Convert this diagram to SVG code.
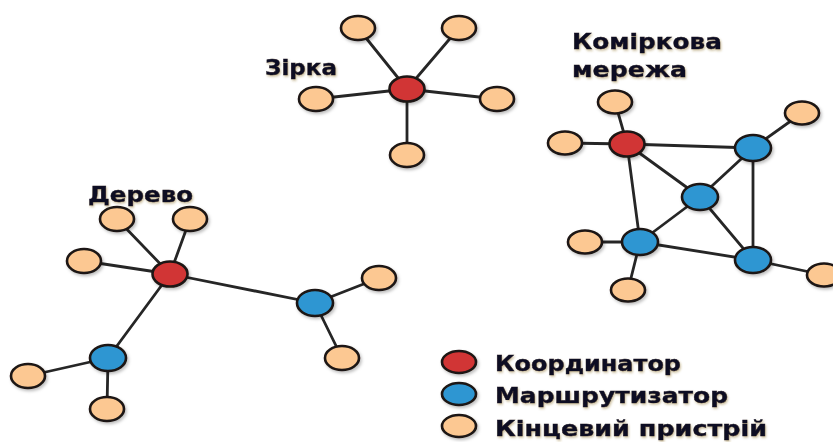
<svg xmlns="http://www.w3.org/2000/svg" width="833" height="442" viewBox="0 0 833 442">
  <defs>
    <filter id="soft" x="-30%" y="-30%" width="160%" height="160%">
      <feDropShadow dx="1.5" dy="2" stdDeviation="1.5" flood-color="#000" flood-opacity="0.25"/>
    </filter>
    <filter id="glow" x="-5%" y="-20%" width="110%" height="140%">
      <feDropShadow dx="1" dy="1.5" stdDeviation="1" flood-color="#8a6a20" flood-opacity="0.45"/>
    </filter>
  </defs>
  <style>
    .edge { stroke: #262626; stroke-width: 2.8; fill: none; stroke-linecap: round; }
    .node { stroke: #1e1712; stroke-width: 2.6; filter: url(#soft); }
    .coord { fill: #d13434; }
    .router { fill: #2f96d2; }
    .end { fill: #fcc892; }
    .label { font-family: "DejaVu Sans", "Liberation Sans", sans-serif; font-weight: bold; fill: #0c0c22; stroke: #0c0c22; stroke-width: 0.4; filter: url(#glow); }
  </style>
  <rect width="833" height="442" fill="#ffffff"/>

  <!-- connectors -->
  <g id="connectors">
    <!-- star -->
    <line class="edge" x1="407" y1="89" x2="358" y2="28"/>
    <line class="edge" x1="407" y1="89" x2="459" y2="28"/>
    <line class="edge" x1="407" y1="89" x2="316" y2="99"/>
    <line class="edge" x1="407" y1="89" x2="497" y2="99"/>
    <line class="edge" x1="407" y1="89" x2="407" y2="155"/>
    <!-- mesh -->
    <line class="edge" x1="627" y1="144" x2="615" y2="102"/>
    <line class="edge" x1="627" y1="144" x2="565" y2="143"/>
    <line class="edge" x1="627" y1="144" x2="753" y2="148"/>
    <line class="edge" x1="627" y1="144" x2="700" y2="197"/>
    <line class="edge" x1="627" y1="144" x2="640" y2="242"/>
    <line class="edge" x1="753" y1="148" x2="802" y2="113"/>
    <line class="edge" x1="753" y1="148" x2="700" y2="197"/>
    <line class="edge" x1="753" y1="148" x2="753" y2="260"/>
    <line class="edge" x1="700" y1="197" x2="640" y2="242"/>
    <line class="edge" x1="700" y1="197" x2="753" y2="260"/>
    <line class="edge" x1="640" y1="242" x2="753" y2="260"/>
    <line class="edge" x1="640" y1="242" x2="585" y2="242"/>
    <line class="edge" x1="640" y1="242" x2="628" y2="290"/>
    <line class="edge" x1="753" y1="260" x2="824" y2="275"/>
    <!-- tree -->
    <line class="edge" x1="170" y1="274" x2="117" y2="219"/>
    <line class="edge" x1="170" y1="274" x2="190" y2="219"/>
    <line class="edge" x1="170" y1="274" x2="84" y2="261"/>
    <line class="edge" x1="170" y1="274" x2="315" y2="303"/>
    <line class="edge" x1="170" y1="274" x2="108" y2="358"/>
    <line class="edge" x1="315" y1="303" x2="379" y2="278"/>
    <line class="edge" x1="315" y1="303" x2="342" y2="358"/>
    <line class="edge" x1="108" y1="358" x2="28" y2="376"/>
    <line class="edge" x1="108" y1="358" x2="107" y2="409"/>
  </g>

  <!-- star topology -->
  <g id="star-coordinator"><ellipse class="node coord" cx="407" cy="89" rx="17.5" ry="12.5"/></g>
  <g id="star-end-1"><ellipse class="node end" cx="358" cy="28" rx="17" ry="12"/></g>
  <g id="star-end-2"><ellipse class="node end" cx="459" cy="28" rx="17" ry="12"/></g>
  <g id="star-end-3"><ellipse class="node end" cx="316" cy="99" rx="17" ry="12"/></g>
  <g id="star-end-4"><ellipse class="node end" cx="497" cy="99" rx="17" ry="12"/></g>
  <g id="star-end-5"><ellipse class="node end" cx="407" cy="155" rx="17" ry="12"/></g>

  <!-- mesh topology -->
  <g id="mesh-coordinator"><ellipse class="node coord" cx="627" cy="144" rx="17.5" ry="12.5"/></g>
  <g id="mesh-router-1"><ellipse class="node router" cx="753" cy="148" rx="18" ry="13"/></g>
  <g id="mesh-router-2"><ellipse class="node router" cx="700" cy="197" rx="18" ry="13"/></g>
  <g id="mesh-router-3"><ellipse class="node router" cx="640" cy="242" rx="18" ry="13"/></g>
  <g id="mesh-router-4"><ellipse class="node router" cx="753" cy="260" rx="18" ry="13"/></g>
  <g id="mesh-end-1"><ellipse class="node end" cx="615" cy="102" rx="17" ry="11.5"/></g>
  <g id="mesh-end-2"><ellipse class="node end" cx="565" cy="143" rx="17" ry="11.5"/></g>
  <g id="mesh-end-3"><ellipse class="node end" cx="802" cy="113" rx="17" ry="11.5"/></g>
  <g id="mesh-end-4"><ellipse class="node end" cx="585" cy="242" rx="17" ry="11.5"/></g>
  <g id="mesh-end-5"><ellipse class="node end" cx="628" cy="290" rx="17" ry="11.5"/></g>
  <g id="mesh-end-6"><ellipse class="node end" cx="824" cy="275" rx="17" ry="11.5"/></g>

  <!-- tree topology -->
  <g id="tree-coordinator"><ellipse class="node coord" cx="170" cy="274" rx="17.5" ry="12.5"/></g>
  <g id="tree-router-1"><ellipse class="node router" cx="315" cy="303" rx="18" ry="13"/></g>
  <g id="tree-router-2"><ellipse class="node router" cx="108" cy="358" rx="18" ry="13"/></g>
  <g id="tree-end-1"><ellipse class="node end" cx="117" cy="219" rx="17" ry="12"/></g>
  <g id="tree-end-2"><ellipse class="node end" cx="190" cy="219" rx="17" ry="12"/></g>
  <g id="tree-end-3"><ellipse class="node end" cx="84" cy="261" rx="17" ry="12"/></g>
  <g id="tree-end-4"><ellipse class="node end" cx="379" cy="278" rx="17" ry="12"/></g>
  <g id="tree-end-5"><ellipse class="node end" cx="342" cy="358" rx="17" ry="12"/></g>
  <g id="tree-end-6"><ellipse class="node end" cx="28" cy="376" rx="17" ry="12"/></g>
  <g id="tree-end-7"><ellipse class="node end" cx="107" cy="409" rx="17" ry="12"/></g>

  <!-- titles -->
  <g id="titles">
    <text class="label" x="265" y="75" font-size="22" textLength="72" lengthAdjust="spacingAndGlyphs">Зірка</text>
    <text class="label" x="572" y="48.5" font-size="22" textLength="150" lengthAdjust="spacingAndGlyphs">Коміркова</text>
    <text class="label" x="572" y="77" font-size="22" textLength="115" lengthAdjust="spacingAndGlyphs">мережа</text>
    <text class="label" x="88" y="201.5" font-size="21" textLength="105" lengthAdjust="spacingAndGlyphs">Дерево</text>
  </g>

  <!-- legend -->
  <g id="legend">
    <ellipse class="node coord" cx="459" cy="362" rx="17" ry="11"/>
    <ellipse class="node router" cx="459" cy="394" rx="17" ry="11"/>
    <ellipse class="node end" cx="459" cy="426" rx="17" ry="11"/>
    <text class="label" x="495" y="371" font-size="21" textLength="186" lengthAdjust="spacingAndGlyphs">Координатор</text>
    <text class="label" x="495" y="403" font-size="21" textLength="233" lengthAdjust="spacingAndGlyphs">Маршрутизатор</text>
    <text class="label" x="495" y="436" font-size="21" textLength="272" lengthAdjust="spacingAndGlyphs">Кінцевий пристрій</text>
  </g>
</svg>
